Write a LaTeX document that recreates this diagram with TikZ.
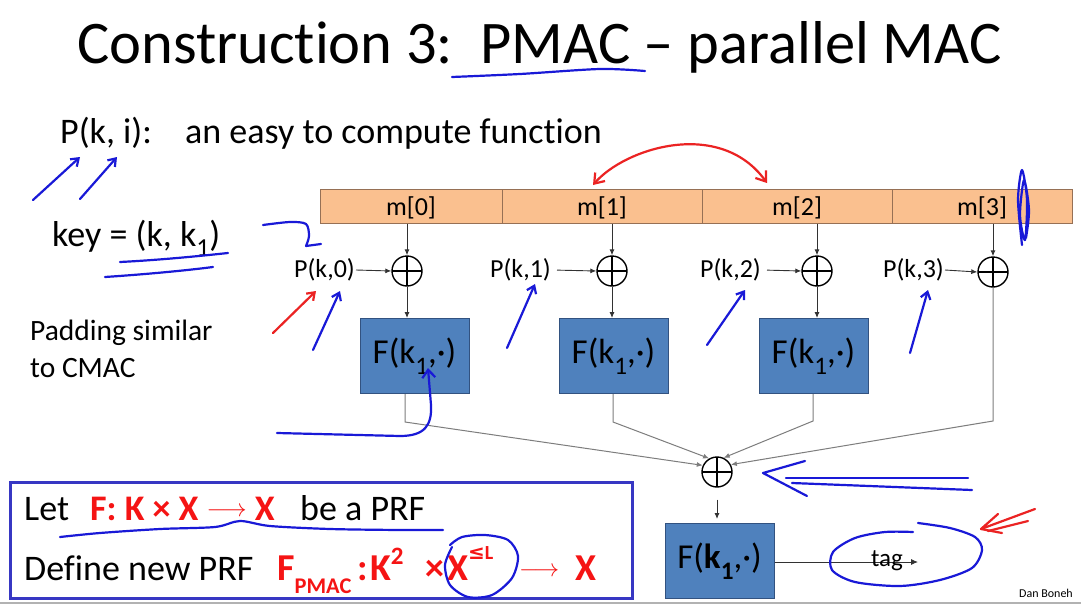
\documentclass[tikz,border=0pt]{standalone}
\usepackage{fontspec}
\setmainfont{Carlito}[Ligatures=NoCommon]
\newfontfamily\djv{DejaVu Sans}
\usetikzlibrary{arrows.meta,calc}
\definecolor{orfill}{RGB}{250,192,143}
\definecolor{ordraw}{RGB}{150,112,85}
\definecolor{bxfill}{RGB}{79,129,189}
\definecolor{bxdraw}{RGB}{50,82,128}
\definecolor{penblue}{RGB}{25,25,215}
\definecolor{penred}{RGB}{235,35,35}
\definecolor{txred}{RGB}{245,20,20}
\definecolor{frameblue}{RGB}{55,55,195}
\definecolor{wire}{RGB}{50,50,50}
\definecolor{outwire}{RGB}{125,125,125}
\newcommand{\fs}[1]{\fontsize{#1}{#1}\selectfont}
\newcommand{\lowsub}[1]{\raisebox{-0.3em}{\scalebox{0.72}{#1}}}
\newcommand{\lowsubb}[1]{\raisebox{-0.36em}{\scalebox{0.59}{#1}}}
\tikzset{
  cell/.style={draw=ordraw, fill=orfill, line width=1pt, minimum height=34pt, inner sep=0pt, font=\fs{26}, text height=22pt, text depth=3pt},
  xorc/.style={circle, draw, line width=1.4pt, minimum size=30pt, inner sep=0pt,
    path picture={\draw[line width=1.4pt] (path picture bounding box.north) -- (path picture bounding box.south)
      (path picture bounding box.west) -- (path picture bounding box.east);}},
  fbox/.style={draw=bxdraw, fill=bxfill, line width=1pt, minimum width=109pt, minimum height=75pt, inner sep=0pt, font=\fs{35}},
  lbl/.style={inner sep=1pt, font=\fs{26}},
  txt/.style={anchor=base west, inner sep=0pt},
  redtxt/.style={anchor=base west, inner sep=0pt, font=\fs{38}\bfseries, text=txred},
  wirearrow/.style={draw=wire, line width=0.9pt, -{Latex[length=6pt,width=5pt]}},
  outarrow/.style={draw=outwire, line width=1pt, -{Latex[length=6pt,width=5pt]}},
  penline/.style={line width=2.2pt, line cap=round, line join=round},
  barb/.style={-{Straight Barb[length=7pt,width=10pt]}}
}
\begin{document}
\begin{tikzpicture}[x=1pt,y=-1pt]
\fill[white] (0,0) rectangle (1081,605);
\useasboundingbox (0,0) rectangle (1081,605);

% title and left texts
\node[txt, font=\fs{60.5}] (title) at (77,63) {Construction 3:\ \ PMAC – parallel MAC};
\node[txt, font=\fs{36}] (pki) at (60,143) {P(k, i):};
\node[txt, font=\fs{36}] (easy) at (185,143) {an easy to compute function};
\node[txt, font=\fs{36}] (key) at (52,246) {key = (k, k\lowsub{1})};
\node[txt, font=\fs{29.5}] (pad1) at (30,340) {Padding similar};
\node[txt, font=\fs{29.5}] (pad2) at (30,377) {to CMAC};

% message bar
\node[cell, minimum width=182pt] (c0) at (411,206) {m[0]};
\node[cell, minimum width=200pt] (c1) at (602,206) {m[1]};
\node[cell, minimum width=190pt] (c2) at (797,206) {m[2]};
\node[cell, minimum width=180pt] (c3) at (982,206) {m[3]};

% xors
\node[xorc] (x0) at (407,271) {};
\node[xorc] (x1) at (612,271) {};
\node[xorc] (x2) at (817,271) {};
\node[xorc] (x3) at (993,272) {};
\node[xorc] (xf) at (717,472) {};

% P labels
\node[lbl, anchor=east] (p0) at (356,270) {P(k,0)};
\node[lbl, anchor=east] (p1) at (552,270) {P(k,1)};
\node[lbl, anchor=east] (p2) at (762,270) {P(k,2)};
\node[lbl, anchor=east] (p3) at (945,270) {P(k,3)};
\draw[wirearrow] (p0.east) -- (x0.west);
\draw[wirearrow, shorten <=5pt] (p1.east) -- (x1.west);
\draw[wirearrow, shorten <=5pt] (p2.east) -- (x2.west);
\draw[wirearrow] (p3.east) -- (x3.west);

\draw[wirearrow] (c0.south -| x0) -- (x0.north);
\draw[wirearrow] (c1.south -| x1) -- (x1.north);
\draw[wirearrow] (c2.south -| x2) -- (x2.north);
\draw[wirearrow] (c3.south -| x3) -- (x3.north);

% F boxes
\node[fbox] (f0) at (414.5,356) {F(k\lowsub{1},·)};
\node[fbox] (f1) at (613.5,356) {F(k\lowsub{1},·)};
\node[fbox] (f2) at (813.5,356) {F(k\lowsub{1},·)};
\draw[wirearrow] (x0.south) -- (x0 |- f0.north);
\draw[wirearrow] (x1.south) -- (x1 |- f1.north);
\draw[wirearrow] (x2.south) -- (x2 |- f2.north);

% outputs to final xor
\coordinate (b0) at (405,422);
\coordinate (b1) at (613,422);
\coordinate (b2) at (813,421);
\coordinate (b3) at (993,421);
\draw[outarrow] (f0.south -| b0) -- (b0) -- (xf.155);
\draw[outarrow] (f1.south -| b1) -- (b1) -- (xf.120);
\draw[outarrow] (f2.south -| b2) -- (b2) -- (xf.65);
\draw[outarrow] (x3.south) -- (b3) -- (xf.28);

% final F and tag
\node[fbox] (ff) at (719.5,561) {F(\textbf{k\lowsub{1}},·)};
\draw[wirearrow, shorten <=12pt, shorten >=4pt] (xf.south) -- (xf.south |- ff.north);
\coordinate (tagend) at (918,562);
\draw[draw=wire, line width=0.9pt, -{Latex[length=7pt,width=6pt]}] (ff.east |- tagend) -- (tagend);
\node[lbl, anchor=base, font=\fs{25}] (tag) at (887,566) {tag};

% definition box
\node[draw=frameblue, line width=3pt, minimum width=622pt, minimum height=116pt, inner sep=0pt] (defbox) at (321,540) {};
\node[txt, font=\fs{36}] (let) at (24,520) {Let};
\node[txt, font=\fs{36}\bfseries, text=txred] (fdef) at (90,520) {F: K × X \raisebox{4pt}{\fs{25}$\longrightarrow$} X};
\node[txt, font=\fs{36}] (prf) at (300,520) {be a PRF};
\node[txt, font=\fs{36}] (def) at (24,580) {Define new PRF};
\node[redtxt] (fp) at (277,580) {F\lowsubb{PMAC}};
\node[redtxt] (colon) at (357,580) {:};
\node[redtxt] (k2) at (370,580) {K\raisebox{0.4em}{\fs{25}2}};
\node[redtxt] (times) at (425,580) {×};
\node[redtxt] (xl) at (447,580) {X\raisebox{0.55em}{\fs{20}{\djv ≤}L}};
\node[redtxt] (arr) at (519,580) {\raisebox{4pt}{\fs{26.5}$\longrightarrow$}};
\node[redtxt] (xend) at (575,580) {X};

\node[anchor=base east, inner sep=0pt, font=\fs{12}] (db) at (1073,597) {Dan Boneh};
\draw[gray!60, line width=2pt] (0,603) -- (1081,603);

% ---- pen annotations ----
\draw[penblue, penline] plot[smooth] coordinates {(452,77) (520,74) (600,69) (645,71)};
\draw[penblue, penline, barb] (33,200) -- (80,157);
\draw[penblue, penline, barb] (80,199) -- (117,157);
\draw[penblue, penline] (120,262) .. controls (160,260) and (200,256) .. (228,253);
\draw[penblue, penline] (105,277) .. controls (150,274) and (190,270) .. (213,267);
\draw[penblue, penline] plot[smooth] coordinates {(263,225) (290,222) (306,224) (309,236) (306,246)} -- (321,244);
\draw[penred, penline, barb] (273,333) -- (316,291);
\draw[penblue, penline, barb] (313,350) -- (340,291);
\draw[penblue, penline, barb] (507,348) -- (535,284);
\draw[penblue, penline, barb] (707,345) -- (745,290);
\draw[penblue, penline, barb] (910,353) -- (928,290);
\draw[penblue, penline] plot[smooth] coordinates {(1022,245) (1018,200) (1022,170) (1027,200) (1025,240) (1020,215) (1024,180) (1029,210) (1026,238)};
\draw[penred, penline, {Straight Barb[length=9pt,width=13pt]}-{Straight Barb[length=9pt,width=13pt]}] (593,185) .. controls (625,148) and (720,118) .. (767,183);
\draw[penblue, penline, -{Straight Barb[length=8pt,width=13pt]}] (277,433) -- (400,436) .. controls (425,436) and (432,425) .. (431,405) -- (428,368);
\draw[penblue, penline] (805,461) -- (763,473) -- (807,496);
\draw[penblue, penline] (786,478) -- (968,478);
\draw[penblue, penline] (792,483) -- (972,490);
\draw[penblue, penline] plot[smooth] coordinates {(918,523) (950,528) (975,537) (982,550) (972,568) (940,580) (900,586) (855,582) (832,570) (833,552) (855,538) (885,532) (913,532)};
\draw[penred, penline] (1035,509) -- (981,529) -- (998,514);
\draw[penred, penline] (1028,521) -- (988,531);
\draw[penred, penline] (981,529) -- (1002,533);
\draw[penblue, penline] plot[smooth] coordinates {(60,537) (100,533) (160,529) (215,527) (240,521) (270,526) (330,529) (400,530) (443,530)};
\draw[penblue, penline] plot[smooth] coordinates {(450,545) (462,537) (485,535) (508,540) (518,556) (512,578) (492,595) (468,597) (450,585) (445,565) (452,547)};
\end{tikzpicture}
\end{document}
